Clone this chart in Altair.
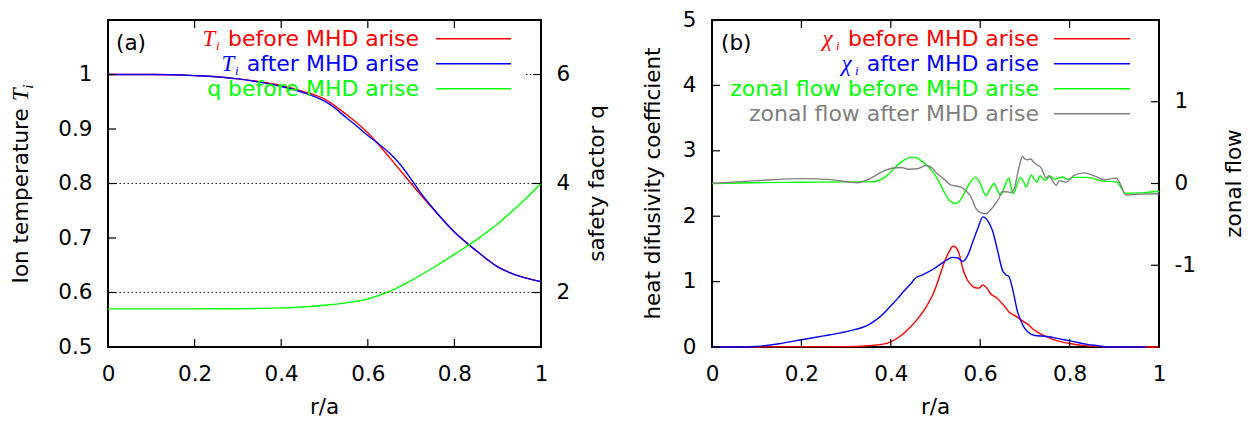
import altair as alt
import pandas as pd

# ---------------- panel (a) data ----------------
x_ticks = [0, 0.2, 0.4, 0.6, 0.8, 1]
T_ticks = [0.5, 0.6, 0.7, 0.8, 0.9, 1.0]
q_ticks = [2, 4, 6]
T_grid = [0.6, 0.8]

r_Tb = [0.0, 0.1, 0.2, 0.25, 0.3, 0.35, 0.4, 0.45, 0.5, 0.55, 0.6, 0.65, 0.7, 0.75, 0.8, 0.85, 0.9, 0.95, 1.0]
T_before = [1.000, 1.000, 0.998, 0.996, 0.992, 0.987, 0.980, 0.969, 0.955, 0.927, 0.893, 0.848, 0.800, 0.754, 0.711, 0.677, 0.647, 0.630, 0.620]

r_Ta = [0.0, 0.1, 0.2, 0.25, 0.3, 0.35, 0.4, 0.45, 0.5, 0.52, 0.55, 0.575, 0.6, 0.623, 0.65, 0.677, 0.7, 0.72, 0.75, 0.8, 0.85, 0.9, 0.95, 1.0]
T_after = [1.000, 1.000, 0.998, 0.996, 0.992, 0.986, 0.978, 0.967, 0.951, 0.941, 0.921, 0.905, 0.888, 0.874, 0.856, 0.833, 0.808, 0.785, 0.755, 0.711, 0.677, 0.647, 0.630, 0.620]

r_q = [0.0, 0.1, 0.2, 0.3, 0.35, 0.4, 0.45, 0.5, 0.55, 0.6, 0.65, 0.7, 0.75, 0.8, 0.85, 0.9, 0.95, 1.0]
q_before = [1.70, 1.70, 1.70, 1.703, 1.708, 1.718, 1.735, 1.765, 1.81, 1.88, 2.02, 2.22, 2.45, 2.70, 2.96, 3.26, 3.61, 4.0]

# ---------------- panel (b) data ----------------
chi_ticks = [0, 1, 2, 3, 4, 5]
zf_ticks = [-1, 0, 1]

r_cb = [0.0, 0.3, 0.35, 0.38, 0.4, 0.42, 0.44, 0.46, 0.48, 0.5, 0.51, 0.52, 0.53, 0.539, 0.546, 0.553,
        0.561, 0.568, 0.577, 0.587, 0.597, 0.606, 0.615, 0.624, 0.635, 0.646, 0.656, 0.665, 0.675,
        0.684, 0.692, 0.699, 0.708, 0.717, 0.73, 0.75, 0.775, 0.804, 0.83, 0.86, 0.9, 1.0]
chi_before = [0.0, 0.005, 0.02, 0.04, 0.08, 0.16, 0.28, 0.43, 0.62, 0.9, 1.1, 1.3, 1.45, 1.54, 1.52, 1.42,
              1.2, 1.07, 0.97, 0.91, 0.9, 0.95, 0.9, 0.81, 0.76, 0.69, 0.61, 0.53, 0.49,
              0.45, 0.41, 0.38, 0.34, 0.28, 0.22, 0.15, 0.09, 0.05, 0.025, 0.01, 0.0, 0.0]

r_ca = [0.0, 0.08, 0.1, 0.15, 0.2, 0.25, 0.29, 0.31, 0.35, 0.37, 0.385, 0.4, 0.415, 0.43, 0.445, 0.456,
        0.47, 0.482, 0.497, 0.512, 0.525, 0.537, 0.55, 0.561, 0.572, 0.583, 0.595, 0.606, 0.617,
        0.628, 0.639, 0.65, 0.658, 0.664, 0.672, 0.684, 0.691, 0.698, 0.707, 0.72, 0.75, 0.78,
        0.804, 0.84, 0.863, 0.886, 0.97]
chi_after = [0.0, 0.0, 0.01, 0.05, 0.11, 0.17, 0.22, 0.25, 0.34, 0.43, 0.52, 0.63, 0.74, 0.86, 0.97, 1.06,
             1.1, 1.14, 1.2, 1.27, 1.33, 1.37, 1.36, 1.31, 1.4, 1.6, 1.82, 1.99, 1.93,
             1.77, 1.47, 1.17, 1.1, 1.08, 0.9, 0.53, 0.4, 0.3, 0.23, 0.18, 0.16, 0.12,
             0.09, 0.04, 0.02, 0.0, 0.0]

r_zb = [0.0, 0.1, 0.2, 0.3, 0.356, 0.37, 0.39, 0.41, 0.43, 0.445, 0.455, 0.47, 0.49, 0.505, 0.519, 0.53,
        0.545, 0.556, 0.568, 0.58, 0.59, 0.6, 0.613, 0.622, 0.631, 0.638, 0.646, 0.655, 0.664, 0.669,
        0.674, 0.682, 0.69, 0.697, 0.703, 0.709, 0.714, 0.72, 0.727, 0.734, 0.74, 0.745, 0.75,
        0.756, 0.762, 0.767, 0.775, 0.784, 0.79, 0.795, 0.81, 0.84, 0.87, 0.907, 0.915, 0.925, 0.96, 1.0]
zf_before = [0.0, 0.01, 0.015, 0.02, 0.02, 0.03, 0.09, 0.2, 0.29, 0.32, 0.32, 0.27, 0.17, 0.05, -0.1, -0.2,
             -0.245, -0.2, -0.08, 0.03, 0.075, 0.0, -0.15, -0.07, 0.0, -0.08, -0.14, -0.03, 0.065, -0.04,
             -0.125, -0.02, 0.075, 0.02, -0.04, 0.04, 0.105, 0.06, 0.015, 0.095, 0.06, 0.04, 0.06,
             0.09, 0.07, 0.05, 0.065, 0.08, 0.065, 0.05, 0.075, 0.075, 0.035, 0.015, -0.05, -0.12, -0.115, -0.095]

r_za = [0.0, 0.1, 0.2, 0.26, 0.326, 0.35, 0.385, 0.405, 0.423, 0.44, 0.46, 0.478, 0.49, 0.504, 0.52, 0.535,
        0.545, 0.557, 0.568, 0.579, 0.59, 0.602, 0.612, 0.622, 0.631, 0.642, 0.649, 0.658, 0.668, 0.676,
        0.685, 0.695, 0.7, 0.706, 0.713, 0.72, 0.725, 0.736, 0.742, 0.747, 0.754, 0.762, 0.77, 0.777,
        0.792, 0.81, 0.833, 0.856, 0.878, 0.895, 0.905, 0.912, 0.926, 0.96, 1.0]
zf_after = [0.0, 0.035, 0.06, 0.05, 0.01, 0.05, 0.155, 0.19, 0.195, 0.175, 0.18, 0.22, 0.2, 0.12, 0.05, -0.02,
            -0.03, -0.045, -0.09, -0.16, -0.3, -0.36, -0.37, -0.33, -0.27, -0.18, -0.1, -0.1, -0.11, -0.065,
            0.155, 0.33, 0.3, 0.29, 0.3, 0.26, 0.235, 0.195, 0.12, 0.065, 0.095, 0.03, -0.025, 0.035,
            0.015, 0.1, 0.13, 0.09, 0.045, 0.06, 0.065, 0.01, -0.14, -0.13, -0.125]

# ---------------- styling ----------------
RED, BLUE, GREEN, GRAY = "#ff0000", "#0000ff", "#00ff00", "#808080"
FONT = "DejaVu Sans"
SERIF = "Liberation Serif"
FS = 21.5
LFS = 22
LW = 1.4
W_A, W_B, H = 433, 447, 327
TICK = 8

DV = {' ': 0.318, 'a': 0.613, 'b': 0.635, 'D': 0.770, 'e': 0.615, 'f': 0.352, 'H': 0.752, 'i': 0.278,
      'l': 0.278, 'M': 0.863, 'n': 0.634, 'o': 0.612, 'q': 0.635, 'r': 0.411, 's': 0.521, 't': 0.392,
      'w': 0.818, 'z': 0.525, 'I': 0.295, 'm': 0.974, 'p': 0.635, 'u': 0.634}


def tw(s, fs):
    return sum(DV.get(c, 0.6) for c in s) * fs


ONE = pd.DataFrame({"k": [0]})
XS = alt.Scale(domain=[0, 1], nice=False, zero=False)
XAX = alt.Axis(values=x_ticks, format="~g", title=None, labelPadding=16)


def yscale(d):
    return alt.Scale(domain=d, nice=False, zero=False)


def line(r, v, color, ys, yax):
    df = pd.DataFrame({"r": r, "v": v})
    return alt.Chart(df).mark_line(color=color, strokeWidth=LW, interpolate="monotone").encode(
        x=alt.X("r:Q", scale=XS, axis=XAX), y=alt.Y("v:Q", scale=ys, axis=yax))


def xticks():
    df = pd.DataFrame({"t": x_ticks})
    b = alt.Chart(df).mark_rule(color="black", strokeWidth=1.2)
    return [b.encode(x=alt.X("t:Q", scale=XS, axis=XAX), y=alt.value(H), y2=alt.value(H - TICK)),
            b.encode(x=alt.X("t:Q", scale=XS, axis=XAX), y=alt.value(0), y2=alt.value(TICK))]


def yticks(vals, ys, yax, x0, x1):
    df = pd.DataFrame({"t": vals})
    return alt.Chart(df).mark_rule(color="black", strokeWidth=1.2).encode(
        y=alt.Y("t:Q", scale=ys, axis=yax), x=alt.value(x0), x2=alt.value(x1))


def text(s, x, y, color="black", align="left", baseline="alphabetic", font=FONT, size=FS,
         angle=0, style="normal"):
    return alt.Chart(ONE).mark_text(align=align, baseline=baseline, font=font, fontSize=size,
                                    color=color, angle=angle, fontStyle=style).encode(
        x=alt.value(x), y=alt.value(y), text=alt.value(s))


def hline(x0, x1, y, color):
    return alt.Chart(ONE).mark_rule(color=color, strokeWidth=LW).encode(
        x=alt.value(x0), x2=alt.value(x1), y=alt.value(y))


def legend(rows, text_end, lx0, lx1):
    out = []
    for i, (s, color, sym) in enumerate(rows):
        by = 26 + 25 * i
        ly = 18.7 + 25 * i
        start = text_end - tw(s, LFS)
        out.append(text(s, text_end, by, color=color, align="right", size=LFS))
        if sym:
            out.append(text(sym, start - 25, by, color=color, font=SERIF, size=23, style="italic"))
            out.append(text("i", start - 11.5, by + 3.5, color=color, font=SERIF, size=13, style="italic"))
        out.append(hline(lx0, lx1, ly, color))
    return out


# ---------------- panel (a) ----------------
TS = yscale([0.5, 1.1])
QS = yscale([1, 7])
T_AX = alt.Axis(orient="left", values=T_ticks, format="~g", title=None, labelPadding=16)
Q_AX = alt.Axis(orient="right", values=q_ticks, format="~g", title=None, labelPadding=15)

grid = alt.Chart(pd.DataFrame({"v": T_grid})).mark_rule(
    color="#222222", strokeWidth=1, strokeDash=[1.5, 2.5]).encode(y=alt.Y("v:Q", scale=TS, axis=T_AX))
grid6 = alt.Chart(pd.DataFrame({"a": [0.965], "b": [1.0], "v": [1.0]})).mark_rule(
    color="#222222", strokeWidth=1, strokeDash=[1.5, 2.5]).encode(
    x=alt.X("a:Q", scale=XS, axis=XAX), x2="b:Q", y=alt.Y("v:Q", scale=TS, axis=T_AX))

L1 = tw("Ion temperature", FS)
tot = L1 + 0.318 * FS + 18
bot = H / 2 + tot / 2
ion_c = bot - L1 / 2
T_y = bot - L1 - 0.318 * FS

left_a = alt.layer(
    grid, grid6,
    line(r_Tb, T_before, RED, TS, T_AX),
    line(r_Ta, T_after, BLUE, TS, T_AX),
    *xticks(),
    yticks(T_ticks, TS, T_AX, 0, TICK),
    text("(a)", 8, 29.5),
    text("r/a", W_A / 2, H + 67, align="center"),
    text("Ion temperature", -80, ion_c, align="center", angle=270),
    text("T", -80, T_y, font=SERIF, size=23, style="italic", angle=270),
    text("i", -75, T_y - 12.5, font=SERIF, size=15, style="italic", angle=270),
    text("safety factor q", W_A + 63, H / 2, align="center", angle=270),
    *legend([("before MHD arise", RED, "T"), ("after MHD arise", BLUE, "T"),
             ("q before MHD arise", GREEN, None)], 311, 328, 403),
)
right_a = alt.layer(
    line(r_q, q_before, GREEN, QS, Q_AX),
    yticks(q_ticks, QS, Q_AX, W_A - TICK, W_A),
)
panel_a = alt.layer(left_a, right_a).resolve_scale(y="independent").properties(width=W_A, height=H)

# ---------------- panel (b) ----------------
CS = yscale([0, 5])
ZS = yscale([-2, 2])
C_AX = alt.Axis(orient="left", values=chi_ticks, format="~g", title=None, labelPadding=16)
Z_AX = alt.Axis(orient="right", values=zf_ticks, title=None, labelPadding=15,
                labelExpr="datum.value < 0 ? '-' + format(-datum.value, 'd') : format(datum.value, 'd')")

left_b = alt.layer(
    line(r_cb, chi_before, RED, CS, C_AX),
    line(r_ca, chi_after, BLUE, CS, C_AX),
    *xticks(),
    yticks(chi_ticks, CS, C_AX, 0, TICK),
    text("(b)", 9, 29.5),
    text("r/a", W_B / 2, H + 67, align="center"),
    text("heat difusivity coefficient", -52, H / 2, align="center", angle=270),
    text("zonal flow", W_B + 82, H / 2, align="center", angle=270),
    *legend([("before MHD arise", RED, "\u03c7"), ("after MHD arise", BLUE, "\u03c7"),
             ("zonal flow before MHD arise", GREEN, None),
             ("zonal flow after MHD arise", GRAY, None)], 327, 342, 418),
)
right_b = alt.layer(
    line(r_zb, zf_before, GREEN, ZS, Z_AX),
    line(r_za, zf_after, GRAY, ZS, Z_AX),
    yticks(zf_ticks, ZS, Z_AX, W_B - TICK, W_B),
)
panel_b = alt.layer(left_b, right_b).resolve_scale(y="independent").properties(width=W_B, height=H)

chart = alt.hconcat(panel_a, panel_b, spacing=171, bounds="flush").properties(
    padding={"left": 1, "top": 0, "right": 0, "bottom": -2}
).configure_view(
    stroke="black", strokeWidth=2
).configure_axis(
    labelFont=FONT, labelFontSize=FS, labelColor="black", ticks=False, tickSize=0,
    domain=False, grid=False, labelFlush=False, labelOverlap=False
)

chart.save("out.html", embed_options={"renderer": "svg", "actions": False})
